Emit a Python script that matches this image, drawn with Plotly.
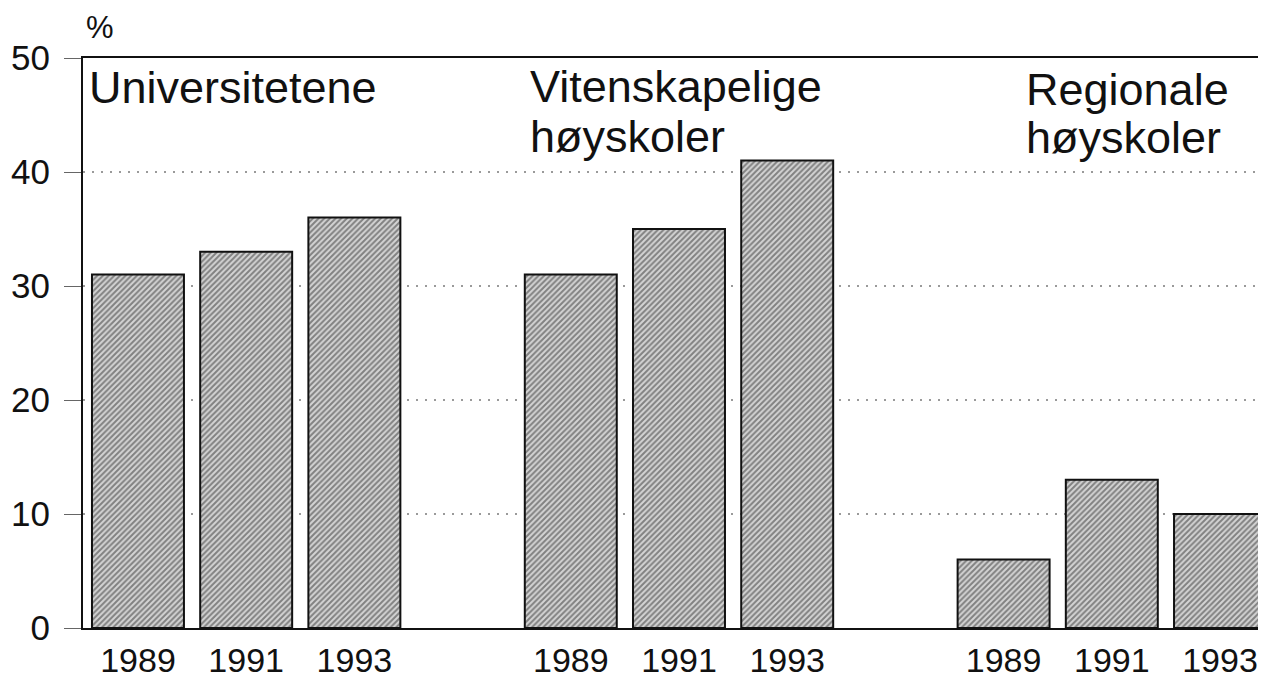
import plotly.graph_objects as go

groups = ["Universitetene", "Vitenskapelige høyskoler", "Regionale høyskoler"]
years = ["1989", "1991", "1993"]
values = {
    "Universitetene": [31, 33, 36],
    "Vitenskapelige høyskoler": [31, 35, 41],
    "Regionale høyskoler": [6, 13, 10],
}
y_ticks = [0, 10, 20, 30, 40, 50]

FONT = "Liberation Sans, Arial, sans-serif"

xs, ys, labels = [], [], []
for g, grp in enumerate(groups):
    for i, yr in enumerate(years):
        xs.append(g * 4 + i)
        ys.append(values[grp][i])
        labels.append(yr)

fig = go.Figure()
fig.add_trace(go.Bar(
    x=xs, y=ys, width=0.85,
    marker=dict(
        color="#d4d4d4",
        line=dict(color="#111", width=2),
        pattern=dict(shape="/", fgcolor="#2e2e2e", bgcolor="#d4d4d4", size=4, solidity=0.5),
    ),
    hoverinfo="skip",
))

# group labels
def label(text, x, y):
    fig.add_annotation(x=x, y=y, xref="x", yref="y", text=text, showarrow=False,
                       xanchor="left", yanchor="middle",
                       font=dict(family=FONT, size=45, color="#111"))

label("Universitetene", -0.47, 47.4)
label("Vitenskapelige", 3.60, 47.5)
label("høyskoler", 3.60, 43.15)
label("Regionale", 8.19, 47.25)
label("høyskoler", 8.19, 43.0)

fig.add_annotation(x=0, y=1.0, xref="paper", yref="paper", xshift=1, yshift=11,
                   text="%", showarrow=False, xanchor="left", yanchor="bottom",
                   font=dict(family=FONT, size=31, color="#111"))

fig.update_layout(
    width=1258, height=672,
    margin=dict(l=75, r=0, t=50, b=52),
    paper_bgcolor="white", plot_bgcolor="white",
    showlegend=False,
    font=dict(family=FONT, color="#111"),
    xaxis=dict(
        automargin=False,
        range=[-0.508, 10.425],
        tickvals=xs, ticktext=labels,
        showgrid=False, zeroline=False,
        showline=True, linecolor="#111", linewidth=2, mirror=True,
        ticks="", tickfont=dict(size=34, family=FONT, color="#111"),
        ticklabelstandoff=1,
    ),
    yaxis=dict(
        automargin=False,
        range=[0, 50], tickvals=y_ticks,
        showgrid=True, gridcolor="#9a9a9a", gridwidth=2, griddash="2px,7px",
        zeroline=False,
        showline=True, linecolor="#111", linewidth=2,
        ticks="outside", ticklen=17, tickcolor="#666", tickwidth=1,
        tickfont=dict(size=35, family=FONT, color="#111"),
        ticklabelstandoff=7,
    ),
)

fig.write_html("out.html")
